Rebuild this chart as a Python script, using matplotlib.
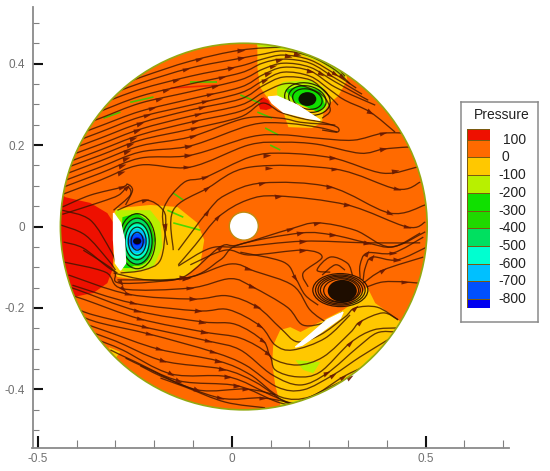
import numpy as np
import matplotlib
matplotlib.use("Agg")
import matplotlib.pyplot as plt
from matplotlib.colors import ListedColormap, BoundaryNorm
from matplotlib.markers import MarkerStyle
from matplotlib.patches import Ellipse, Polygon, PathPatch
from matplotlib.path import Path
from matplotlib.transforms import Affine2D

plt.rcParams['font.family'] = ['Liberation Sans', 'DejaVu Sans']

# pressure scale of the legend
levels = [-850, -800, -700, -600, -500, -400, -300, -200, -100, 0, 100, 160]
level_colors = ['#0000f0', '#0050ff', '#00c0ff', '#00ffd0', '#00e060', '#20d800',
                '#10e000', '#b8f000', '#ffc800', '#ff6a00', '#ee1000']
legend_ticks = [100, 0, -100, -200, -300, -400, -500, -600, -700, -800]

# disc and hole: centre x, centre y, width, height
disc = (0.031, 0.0, 0.946, 0.900)
hole = (0.031, 0.001, 0.0748, 0.0687)

# pressure regions: value, x, y
regions = [
    (-50, [.066, .066, .073, .089, .133, .146, .207, .233, .238, .274, .298, .292, .177],
     [.458, .391, .342, .320, .281, .244, .242, .256, .291, .320, .360, .394, .458]),
    (-150, [.066, .151, .228, .292, .292, .177, .066], [.443, .433, .404, .364, .409, .482, .482]),
    (-150, [.117, .133, .202, .236, .249, .236, .177, .117], [.342, .355, .360, .342, .298, .279, .298, .318]),
    (-250, [.138, .177, .228, .241, .223, .164], [.335, .347, .335, .298, .281, .305]),
    (120, [.068, .081, .094, .104, .089, .073], [.303, .318, .310, .291, .286, .288]),
    (120, [-.455, -.429, -.398, -.365, -.321, -.305, -.305, -.308, -.321, -.357, -.408, -.455],
     [.090, .072, .065, .058, .033, .009, -.075, -.107, -.139, -.163, -.173, -.180]),
    (-50, [-.295, -.210, -.140, -.089, -.071, -.081, -.125, -.192, -.295, -.305, -.305],
     [.045, .053, .048, .009, -.033, -.090, -.126, -.136, -.124, -.107, .033]),
    (-150, [-.300, -.210, -.184, -.179, -.202, -.269, -.295], [.040, .040, .009, -.050, -.099, -.114, -.102]),
    (-250, [-.282, -.244, -.210, -.197, -.218, -.262, -.282, -.287], [.023, .033, .009, -.033, -.077, -.102, -.102, -.050]),
    (-50, [.107, .125, .151, .177, .287, .305, .349, .370, .429, .486, .383, .125, .125, .112, .104],
     [-.291, -.254, -.247, -.259, -.205, -.193, -.148, -.188, -.229, -.279, -.426, -.475, -.438, -.389, -.335]),
    (-150, [.164, .228, .210, .184], [-.328, -.333, -.360, -.352]),
    (-150, [.125, .228, .305, .362, .408, .177], [-.438, -.413, -.372, -.316, -.352, -.499]),
    (-50, [-.318, -.287, -.300], [-.296, -.308, -.323]),
]

# thin patches left by the mesh on the orange area: value, x, y
mesh_bits = [
    (-250, [-.151, -.125], [.082, .065]),
    (-250, [-.166, -.125], [.040, .023]),
    (-250, [-.151, -.081], [.009, -.009]),
    (-250, [.066, .104], [.281, .266]),
    (-250, [.086, .120], [.242, .225]),
    (-250, [.099, .125], [.200, .188]),
    (-250, [.022, .073], [.323, .303]),
    (-250, [-.107, -.037], [.355, .355]),
    (-250, [-.331, -.287], [.266, .281]),
    (-250, [-.262, -.202], [.305, .318]),
    (120, [-.158, -.037], [.340, .347]),
]

# low pressure core of the left vortex: value, width, height
core_center = (-.244, -.036)
core_levels = [(-350, .088, .122), (-450, .077, .113), (-550, .062, .083),
               (-650, .052, .059), (-750, .041, .039), (-820, .021, .020)]

# closed streamlines round each vortex: centre x, centre y, width, height, angle
vortex_rings = [
    (-.244, -.036, .093, .135, 0), (-.244, -.036, .077, .113, 0), (-.244, -.036, .062, .091, 0),
    (-.244, -.036, .046, .069, 0), (-.244, -.036, .031, .044, 0),
    (.195, .313, .119, .078, -12), (.195, .313, .098, .064, -12), (.195, .313, .077, .049, -12),
    (.280, -.156, .142, .081, 0), (.280, -.156, .128, .074, 0), (.280, -.156, .115, .068, 0),
    (.280, -.156, .103, .061, 0), (.282, -.157, .090, .057, 0),
]
vortex_cores = [(-.244, -.036, .021, .015), (.195, .313, .046, .034), (.285, -.158, .075, .054)]

# foils
foil_x = [[-.305, -.287, -.277, -.274, -.287, -.300, -.305],
          [.094, .117, .169, .228, .195, .133, .104],
          [.287, .280, .228, .182, .164, .195, .246]]
foil_y = [[.033, .009, -.033, -.090, -.107, -.090, -.033],
          [.318, .320, .298, .261, .266, .281, .303],
          [-.210, -.225, -.261, -.291, -.296, -.271, -.229]]

# streamlines: x, y, x of the arrows
upper_lines = [
    ([-.339, -.236, -.107, .022, .133, .177, .254, .292],
     [.329, .366, .406, .433, .440, .433, .404, .369], [-.084, .024]),
    ([-.339, -.236, -.107, .022, .079, .133, .202, .267, .305],
     [.315, .352, .389, .413, .423, .431, .418, .384, .350], [-.117, .024, .168, .285]),
    ([-.339, -.236, -.107, .022, .079, .133, .202, .267, .321],
     [.301, .337, .369, .394, .411, .421, .409, .374, .340], [-.143, -.001, .146, .267]),
    ([-.339, -.236, -.107, .022, .079, .133, .202, .267, .336],
     [.283, .320, .350, .377, .401, .411, .401, .364, .325], [-.169, -.024, .122, .253]),
    ([-.442, -.339, -.236, -.107, .022, .079, .133, .202, .267, .352],
     [.229, .266, .303, .331, .360, .386, .401, .391, .355, .310], [-.187, -.043, .107, .230]),
    ([-.442, -.339, -.236, -.107, .022, .079, .133, .202, .267, .370],
     [.210, .247, .283, .313, .342, .372, .391, .382, .342, .298], [-.205, -.055, .094, .202]),
    ([-.442, -.339, -.236, -.107, .022, .079, .133, .202, .254, .292, .357, .421],
     [.195, .232, .269, .298, .328, .357, .379, .369, .335, .310, .281, .232], [-.218, -.068, .086, .357]),
    ([-.442, -.339, -.236, -.107, .022, .079, .133, .202, .241, .274],
     [.180, .217, .254, .286, .313, .345, .367, .360, .330, .298], [-.236, -.076]),
    ([-.442, -.339, -.236, -.107, .022, .079, .133, .177, .233, .254, .233],
     [.166, .202, .239, .271, .298, .328, .350, .347, .323, .286, .266], [-.244, -.086]),
    ([-.442, -.339, -.236, -.107, .022, .079],
     [.151, .188, .225, .256, .283, .315], [-.254, -.094]),
    ([-.442, -.339, -.236, -.107, .022, .079, .125, .177, .233, .272, .272, .233],
     [.139, .175, .212, .239, .269, .303, .281, .266, .256, .244, .232, .237], [-.262, -.097]),
    ([-.442, -.339, -.236, -.107, .035, .125, .177, .228, .267],
     [.124, .161, .198, .220, .266, .266, .256, .252, .249], [-.269, -.099]),
    ([-.442, -.339, -.236, -.107, .048, .133, .220, .272],
     [.109, .146, .183, .198, .249, .254, .244, .232], [-.274, -.112]),
    ([-.442, -.339, -.236, -.107, .048, .133, .220, .313, .390, .460],
     [.094, .131, .168, .175, .220, .225, .217, .212, .229, .229], [-.282, -.112, .390]),
    ([-.442, -.339, -.236, -.107, .043, .133, .220, .331, .390, .452, .499],
     [.077, .114, .151, .146, .200, .207, .202, .180, .190, .195, .195], [-.287, -.115, .390]),
    ([-.437, -.365, -.282, -.269, -.256, -.274], [.048, .077, .097, .104, .089, .053], [-.282]),
    ([-.437, -.339, -.292, -.269, -.262, -.305], [.030, .060, .077, .097, .077, .040], [-.269]),
]
middle_lines = [
    ([-.166, -.177, -.125, -.068, .048, .133, .262, .390, .478], [-.045, .040, .107, .121, .171, .180, .168, .131, .146], [-.068, .092, .262, .420]),
    ([-.151, -.151, -.063, .048, .267, .426, .486], [-.058, .040, .094, .146, .141, .092, .109], [-.063, .095, .267, .426]),
    ([-.138, -.063, -.017, .079, .254, .408, .499], [-.058, .036, .077, .107, .097, .033, .053], [-.063, .079, .254, .408]),
    ([-.138, -.094, -.035, .040, .120, .298, .452, .499], [-.094, -.045, .023, .065, .075, .053, -.001, .011], [-.035, .120, .298, .452]),
    ([-.305, -.218, -.125, -.030, .017, .151, .220, .318, .408, .499], [-.114, -.131, -.124, -.050, -.045, -.006, .009, -.009, -.050, -.013], [-.125, -.030, .151, .220]),
    ([-.295, -.115, -.030, .017, .177, .262, .349, .416, .486], [-.131, -.126, -.082, -.045, -.016, -.021, -.040, -.050, -.016], [-.115, .177, .262, .349]),
    ([-.138, -.055, .022, .184, .349, .486], [-.097, -.053, -.050, -.036, -.040, -.040], [.184, .349]),
    ([-.107, -.017, .048, .184, .233, .184, .197], [-.094, -.058, -.070, -.058, -.075, -.114, -.148], [.184]),
    ([.022, .133, .164, .189, .223], [-.063, -.087, -.126, -.168, -.193], [.164]),
    ([.339, .390, .494], [-.139, -.107, -.075], [.390]),
    ([.349, .390, .447, .499], [-.148, -.136, -.136, -.141], [.447]),
    ([.331, .331, .349, .416, .494], [-.126, -.094, -.065, -.065, -.026], [.349, .416]),
    ([.339, .344, .362, .426, .504], [-.131, -.102, -.075, -.082, -.050], [.362, .426]),
    ([.254, .220, .254, .298, .311], [-.112, -.107, -.075, -.090, -.119], []),
    ([.233, .267, .292], [-.119, -.094, -.107], []),
    ([-.295, -.223, -.177, -.171, -.184, -.228, -.287], [.040, .065, .040, -.001, -.082, -.107, -.114], [-.223, -.171]),
    ([-.434, -.383, -.321, -.295], [-.038, -.053, -.099, -.114], []),
    ([-.442, -.378, -.319, -.300], [.004, -.021, -.082, -.107], []),
    ([-.437, -.365, -.313, -.300], [.040, .016, -.058, -.087], []),
]
lower_lines = [
    ([-.383, -.305, -.287, -.117, -.004, .060, .158, .202, .246], [-.058, -.107, -.139, -.126, -.092, -.110, -.145, -.205, -.237], [-.287, -.117, .043]),
    ([-.434, -.326, -.280, -.107, -.004, .053, .143, .184, .246, .285], [-.087, -.112, -.153, -.151, -.128, -.148, -.198, -.242, -.234, -.210], [-.280, -.107, .053]),
    ([-.421, -.267, -.099, -.012, .066, .125, .169, .228, .292, .318, .375, .429],
     [-.119, -.166, -.178, -.170, -.198, -.249, -.283, -.266, -.222, -.200, -.198, -.229], [-.267, -.099, .066, .318]),
    ([-.411, -.256, -.086, -.009, .073, .112, .158, .241, .305], [-.144, -.188, -.207, -.204, -.244, -.291, -.303, -.274, -.217], [-.256, -.086, .073]),
    ([-.450, -.396, -.244, -.076, .009, .081, .104, .169, .236, .305, .331, .390, .429],
     [-.139, -.156, -.207, -.234, -.240, -.281, -.323, -.340, -.320, -.261, -.234, -.212, -.229], [-.244, -.076, .081, .331]),
    ([-.430, -.378, -.236, -.071, .022, .094, .112, .169, .228, .305, .365, .426],
     [-.164, -.180, -.227, -.259, -.274, -.313, -.352, -.369, -.357, -.286, -.254, -.249], [-.236, -.071, .094, .305]),
    ([-.404, -.357, -.225, -.061, .022, .104, .177, .246, .323, .375, .426], [-.200, -.217, -.247, -.281, -.303, -.364, -.389, -.360, -.298, -.261, -.259], [-.225, -.061, .246]),
    ([-.390, -.339, -.213, -.048, .035, .117, .184, .262, .331, .401, .421], [-.220, -.237, -.264, -.308, -.340, -.394, -.401, -.364, -.320, -.279, -.266], [-.213, -.048, .262]),
    ([-.378, -.318, -.189, -.035, .048, .125, .202, .287, .357, .401], [-.239, -.259, -.301, -.330, -.364, -.418, -.418, -.369, -.335, -.296], [-.189, -.035, .287]),
    ([-.365, -.300, -.177, -.024, .061, .143, .184, .305, .349], [-.259, -.281, -.330, -.350, -.382, -.433, -.426, -.369, -.340], [-.177, -.024, .305]),
    ([-.344, -.282, -.156, -.009, .099, .177], [-.279, -.303, -.362, -.369, -.413, -.445], [-.156, -.009]),
    ([-.313, -.249, -.135, .014, .125, .228], [-.303, -.332, -.379, -.391, -.433, -.450], [-.135, .014]),
    ([-.274, -.210, -.089, .037, .112], [-.323, -.352, -.401, -.399, -.413], [-.089, .037]),
    ([-.236, -.171, -.030, .081, .177], [-.342, -.372, -.421, -.421, -.438], [-.030, .081]),
    ([-.184, -.120, -.017, .086], [-.372, -.394, -.431, -.445], []),
]

line_color = '#3c1400'
arrow_color = '#6a1800'

cmap = ListedColormap(level_colors)
norm = BoundaryNorm(levels, cmap.N)

fig = plt.figure(figsize=(5.5, 4.71), dpi=100)
ax = fig.add_axes([32.5 / 550, 23.3 / 471, 476.5 / 550, 440.7 / 471])
ax.set_xlim(-0.514, 0.715)
ax.set_ylim(-0.543, 0.539)

disc_patch = Ellipse(disc[:2], disc[2], disc[3], facecolor=cmap(norm(50)), edgecolor='none', zorder=1)
ax.add_patch(disc_patch)

for value, xs, ys in regions:
    p = Polygon(np.column_stack([xs, ys]), facecolor=cmap(norm(value)), edgecolor='none', zorder=2)
    ax.add_patch(p)
    p.set_clip_path(disc_patch)

for value, xs, ys in mesh_bits:
    ax.plot(xs, ys, color=cmap(norm(value)), lw=1.2, alpha=0.75, solid_capstyle='butt', zorder=2)

for value, w, h in core_levels:
    ax.add_patch(Ellipse(core_center, w, h, facecolor=cmap(norm(value)), edgecolor='none', zorder=2))


def smooth_path(xs, ys):
    # curve through all vertices of a streamline
    pts = np.column_stack([xs, ys])
    verts = [pts[0]]
    codes = [Path.MOVETO]
    for i in range(len(pts) - 1):
        before = pts[max(i - 1, 0)]
        after = pts[min(i + 2, len(pts) - 1)]
        verts += [pts[i] + (pts[i + 1] - before) / 6, pts[i + 1] - (after - pts[i]) / 6, pts[i + 1]]
        codes += [Path.CURVE4] * 3
    return Path(verts, codes)


def draw_arrow(xs, ys, x_at):
    # arrow on the first segment of the line that reaches x_at
    for i in range(len(xs) - 1):
        if min(xs[i], xs[i + 1]) <= x_at <= max(xs[i], xs[i + 1]) and xs[i] != xs[i + 1]:
            t = (x_at - xs[i]) / (xs[i + 1] - xs[i])
            y_at = ys[i] + t * (ys[i + 1] - ys[i])
            angle = np.degrees(np.arctan2((ys[i + 1] - ys[i]) * 407.5, (xs[i + 1] - xs[i]) * 388))
            m = MarkerStyle('>', transform=Affine2D().scale(1.3, 0.8).rotate_deg(angle))
            ax.plot(x_at, y_at, marker=m, ms=4.2, color=arrow_color, mec='none', alpha=0.9, zorder=4.5)
            return


for xs, ys, arrow_xs in upper_lines + middle_lines + lower_lines:
    line = PathPatch(smooth_path(xs, ys), facecolor='none', edgecolor=line_color, lw=0.95, alpha=0.8, zorder=4)
    ax.add_patch(line)
    line.set_clip_path(disc_patch)
    for x_at in arrow_xs:
        draw_arrow(xs, ys, x_at)

for cx, cy, w, h, angle in vortex_rings:
    ax.add_patch(Ellipse((cx, cy), w, h, angle=angle, facecolor='none', edgecolor='#140800', lw=0.9, alpha=0.85, zorder=4))
for cx, cy, w, h in vortex_cores:
    ax.add_patch(Ellipse((cx, cy), w, h, facecolor='#0a0500', edgecolor='none', alpha=0.92, zorder=4.2))

for xs, ys in zip(foil_x, foil_y):
    ax.fill(xs, ys, color='white', zorder=5)

ax.add_patch(Ellipse(disc[:2], disc[2], disc[3], facecolor='none', edgecolor='#94a810', lw=1.2, zorder=5))
ax.add_patch(Ellipse(hole[:2], hole[2], hole[3], facecolor='white', edgecolor='#c08a10', lw=1.0, zorder=5))

# axes
for side in ['top', 'right']:
    ax.spines[side].set_visible(False)
for side in ['left', 'bottom']:
    ax.spines[side].set_color('#8a8a8a')
    ax.spines[side].set_linewidth(1.3)
ax.set_xticks([-0.5, 0, 0.5])
ax.set_xticklabels(['-0.5', '0', '0.5'])
ax.set_yticks([-0.4, -0.2, 0, 0.2, 0.4])
ax.set_yticklabels(['-0.4', '-0.2', '0', '0.2', '0.4'])
ax.set_xticks(np.arange(-0.4, 0.71, 0.1), minor=True)
ax.set_yticks(np.arange(-0.5, 0.51, 0.05), minor=True)
ax.tick_params(axis='x', which='major', direction='in', length=9, width=1.5, color='#111111',
               labelsize=8.5, labelcolor='#707070', pad=4)
ax.tick_params(axis='y', which='major', direction='in', length=7.5, width=1.5, color='#111111',
               labelsize=8.5, labelcolor='#707070', pad=5.5)
ax.tick_params(axis='x', which='minor', direction='in', length=5.5, width=0.8, color='#808080')
ax.tick_params(axis='y', which='minor', direction='in', length=4.3, width=0.8, color='#808080')

# legend box
box = fig.add_axes([461 / 550, 149 / 471, 77 / 550, 220 / 471])
box.set_xticks([])
box.set_yticks([])
for s in box.spines.values():
    s.set_color('#8a8a8a')
    s.set_linewidth(1.1)
box.text(0.53, 0.94, 'Pressure', transform=box.transAxes, ha='center', va='center', fontsize=10, color='#222222')

bar = fig.add_axes([467 / 550, 163 / 471, 23 / 550, 179 / 471])
bar.pcolormesh([0, 1], levels, np.array(levels[:-1])[:, None] + 1, cmap=cmap, norm=norm,
               edgecolors='#7a5a10', linewidth=0.4)
bar.set_ylim(levels[0], levels[-1])
bar.axis('off')
for t in legend_ticks:
    if t == 0:
        bar.text(1.48, t, str(t), ha='left', va='center', fontsize=10, color='#222222', clip_on=False)
    else:
        bar.text(2.57, t, str(t), ha='right', va='center', fontsize=10, color='#222222', clip_on=False)

fig.savefig('out.png', dpi=100)
